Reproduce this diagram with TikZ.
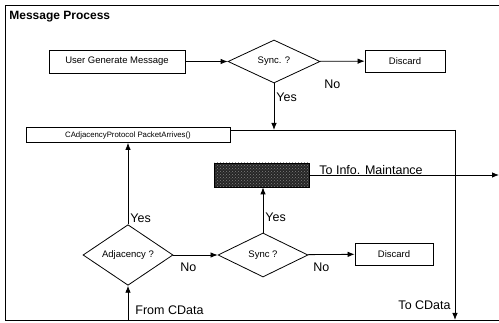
\documentclass[tikz,border=0pt]{standalone}
\usepackage{fontspec}
\setmainfont{Liberation Sans}
\usetikzlibrary{shapes.geometric,arrows.meta,patterns}
\begin{document}
\begin{tikzpicture}[x=1pt,y=-1pt,
  every path/.style={line width=0.8pt},
  arr/.style={-{Latex[length=7pt,width=5.5pt]}},
  box/.style={draw,rectangle,inner sep=0pt,font=\fontsize{9.5}{11}\selectfont},
  dia/.style={draw,diamond,inner sep=0pt,font=\fontsize{9.5}{11}\selectfont},
  lbl/.style={inner sep=0pt,font=\fontsize{12.5}{14}\selectfont}]
\useasboundingbox (0,0) rectangle (499,323);
% frame
\draw (5,320) -- (5,5) -- (499,5);
\draw (5,320) -- (499,320);
\node[anchor=west,inner sep=0pt,font=\bfseries\fontsize{12}{14}\selectfont] (title) at (9,17) {Message Process};
% nodes
\node[box,minimum width=136pt,minimum height=23pt] (ugm) at (117,61.5) {User Generate Message};
\node[dia,minimum width=92pt,minimum height=43pt] (sync1) at (274,61.5) {Sync. ?};
\node[box,minimum width=80pt,minimum height=22pt] (disc1) at (405,61) {Discard};
\node[box,minimum width=204pt,minimum height=15pt,font=\fontsize{7.8}{9}\selectfont] (cadj) at (128,135) {CAdjacencyProtocol PacketArrives()};
\node[box,minimum width=95pt,minimum height=24pt,preaction={fill=black!85},pattern=crosshatch dots,pattern color=gray] (dark) at (262,175) {};
\node[dia,minimum width=90pt,minimum height=44pt] (sync2) at (263,255) {Sync ?};
\node[box,minimum width=78pt,minimum height=22pt] (disc2) at (394,254) {Discard};
\node[dia,minimum width=90pt,minimum height=44pt] (adj) at (128,255) {Adjacency ?};
% coordinates
\coordinate (j1) at (274,130);
\coordinate (corner) at (455,130);
\coordinate (tocdata) at (455,320);
\coordinate (info) at (499,175);
\coordinate (fromcdata) at (128,320);
% connectors
\draw[arr] (ugm) -- (sync1);
\draw[arr] (sync1) -- (disc1);
\draw[arr] (sync1.south) -- (j1);
\draw (cadj.east |- j1) -- (corner);
\draw[arr] (corner) -- (tocdata);
\draw[arr] (dark.east) -- (info);
\draw[arr] (sync2.north) -- (dark.south -| sync2.north);
\draw[arr] (sync2) -- (disc2);
\draw[arr] (adj) -- (sync2);
\draw[arr] (adj.north) -- (adj.north |- cadj.south);
\draw[arr] (fromcdata) -- (adj.south);
% labels
\node[lbl,anchor=west] (no1) at (324,84) {No};
\node[lbl,anchor=west] (yes1) at (276,97) {Yes};
\node[lbl,anchor=west] (infolbl) at (319,170) {To Info. Maintance};
\node[lbl,anchor=west] (yes2) at (265,217) {Yes};
\node[lbl,anchor=west] (yes3) at (130,218) {Yes};
\node[lbl,anchor=west] (no2) at (180,267) {No};
\node[lbl,anchor=west] (no3) at (313,267) {No};
\node[lbl,anchor=west] (fromlbl) at (135,310) {From CData};
\node[lbl,anchor=east] (tolbl) at (451,305) {To CData};
\end{tikzpicture}
\end{document}
